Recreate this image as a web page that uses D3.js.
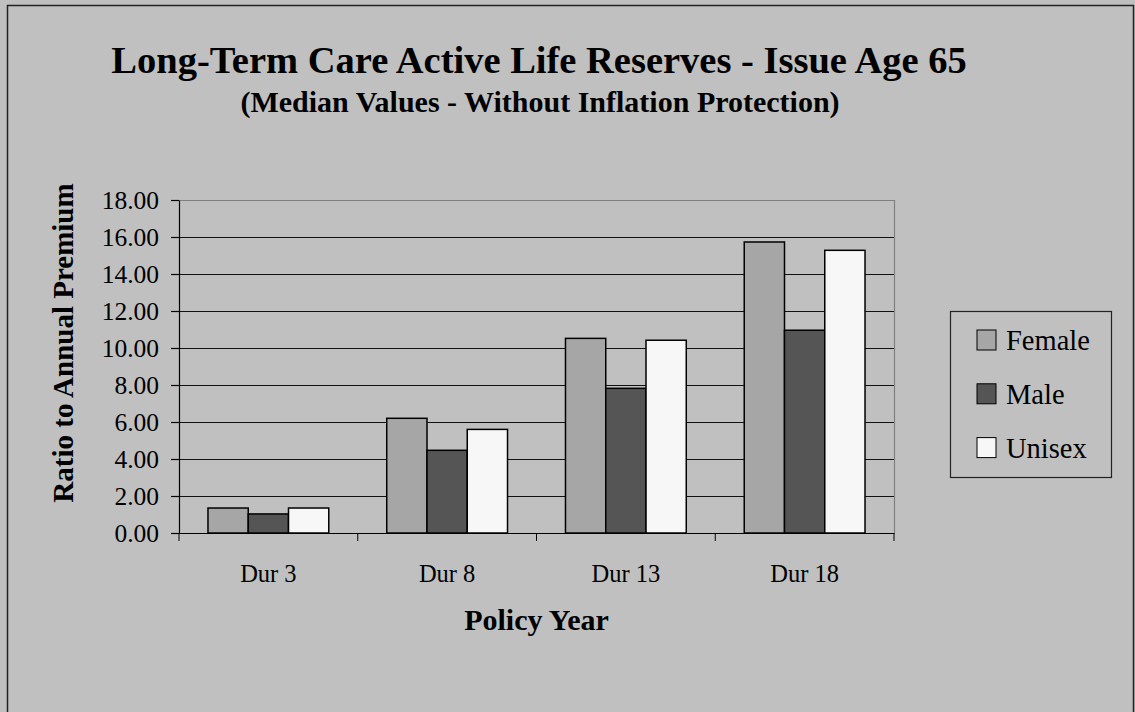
<!DOCTYPE html>
<html>
<head>
<meta charset="utf-8">
<script src="https://cdn.jsdelivr.net/npm/d3@7"></script>
<style>
  body { margin: 0; background: #c0c0c0; }
  svg { display: block; font-family: "Liberation Serif", "Times New Roman", serif; }
</style>
</head>
<body>
<div id="chart"></div>
<script>
var categories = ["Dur 3", "Dur 8", "Dur 13", "Dur 18"];
var seriesNames = ["Female", "Male", "Unisex"];
var female = [1.35, 6.2, 10.52, 15.73];
var male = [1.03, 4.47, 7.82, 10.96];
var unisex = [1.35, 5.6, 10.42, 15.28];
var yTicks = [0, 2, 4, 6, 8, 10, 12, 14, 16, 18];
var colors = ["#a6a6a6", "#555555", "#f7f7f7"];

var seriesValues = [female, male, unisex];
var W = 1135, H = 712;
var plot = {left: 179, right: 894, top: 200, bottom: 533};

var svg = d3.select("#chart").append("svg").attr("width", W).attr("height", H);

// chart frame
svg.append("rect").attr("x", 7.5).attr("y", 5.5).attr("width", 1126).attr("height", 720)
   .style("fill", "#c0c0c0").style("stroke", "#222").style("stroke-width", 1.5);

svg.append("text").attr("x", 539).attr("y", 73).style("text-anchor", "middle")
   .style("font-size", "38.5px").style("font-weight", "bold")
   .text("Long-Term Care Active Life Reserves - Issue Age 65");
svg.append("text").attr("x", 540).attr("y", 112).style("text-anchor", "middle")
   .style("font-size", "30px").style("font-weight", "bold")
   .text("(Median Values - Without Inflation Protection)");

var x = d3.scaleBand().domain(categories).range([plot.left, plot.right]).paddingInner(0).paddingOuter(0);
var xs = d3.scaleBand().domain(seriesNames).range([0, x.bandwidth()]).paddingInner(0).paddingOuter(0.72);
var y = d3.scaleLinear().domain([0, 18]).range([plot.bottom, plot.top]);

// gridlines
svg.append("g").selectAll("line").data(yTicks.filter(function(d){ return d > 0 && d < 18; }))
   .enter().append("line")
   .attr("x1", plot.left).attr("x2", plot.right)
   .attr("y1", function(d){ return Math.round(y(d)) + 0.5; })
   .attr("y2", function(d){ return Math.round(y(d)) + 0.5; })
   .style("stroke", "#111").style("stroke-width", 1);

// plot border top/right
svg.append("path")
   .attr("d", "M" + plot.left + "," + (plot.top + 0.5) + "H" + (plot.right + 0.5) + "V" + plot.bottom)
   .style("fill", "none").style("stroke", "#808080").style("stroke-width", 1.2);

// bars
var groups = svg.append("g").selectAll("g").data(categories).enter().append("g")
   .attr("transform", function(d){ return "translate(" + x(d) + ",0)"; });

groups.selectAll("rect")
   .data(function(d, i){ return seriesNames.map(function(s, j){ return {s: s, j: j, v: seriesValues[j][i]}; }); })
   .enter().append("rect")
   .attr("x", function(d){ return xs(d.s); })
   .attr("width", xs.bandwidth())
   .attr("y", function(d){ return y(d.v); })
   .attr("height", function(d){ return y(0) - y(d.v); })
   .style("fill", function(d){ return colors[d.j]; })
   .style("stroke", "#000").style("stroke-width", 1.5);

// y axis
var yAxis = d3.axisLeft(y).tickValues(yTicks).tickSizeInner(8).tickSizeOuter(0).tickPadding(12)
   .tickFormat(d3.format(".2f"));
var yg = svg.append("g").attr("transform", "translate(" + plot.left + ",0)").call(yAxis);
yg.selectAll("text").style("font-size", "25.5px").style("font-family", "Liberation Serif").attr("dy", "0.34em");
yg.selectAll("line,path").style("stroke", "#000").style("stroke-width", 1.2);

// x axis: ticks between categories
var xg = svg.append("g").attr("transform", "translate(0," + plot.bottom + ")");
xg.append("line").attr("x1", plot.left).attr("x2", plot.right + 0.5).attr("y1", 0.5).attr("y2", 0.5)
   .style("stroke", "#000").style("stroke-width", 1.2);
xg.selectAll(".tk").data(categories.concat(["end"])).enter().append("line")
   .attr("x1", function(d, i){ return plot.left + i * x.bandwidth(); })
   .attr("x2", function(d, i){ return plot.left + i * x.bandwidth(); })
   .attr("y1", 0).attr("y2", 8).style("stroke", "#000").style("stroke-width", 1);
xg.selectAll(".lb").data(categories).enter().append("text")
   .attr("x", function(d){ return x(d) + x.bandwidth() / 2; })
   .attr("y", 49).style("text-anchor", "middle").style("font-size", "24.5px")
   .text(function(d){ return d; });

svg.append("text").attr("x", (plot.left + plot.right) / 2).attr("y", 630)
   .style("text-anchor", "middle").style("font-size", "30px").style("font-weight", "bold")
   .text("Policy Year");

svg.append("text").attr("transform", "translate(73,343) rotate(-90)")
   .style("text-anchor", "middle").style("font-size", "29px").style("font-weight", "bold")
   .text("Ratio to Annual Premium");

// legend
var lg = svg.append("g");
lg.append("rect").attr("x", 950.5).attr("y", 311.5).attr("width", 161).attr("height", 166)
   .style("fill", "#c0c0c0").style("stroke", "#222").style("stroke-width", 1.2);
var items = lg.selectAll(".it").data(seriesNames).enter().append("g")
   .attr("transform", function(d, i){ return "translate(977," + (330 + i * 53.8) + ")"; });
items.append("rect").attr("width", 19).attr("height", 20)
   .style("fill", function(d, i){ return colors[i]; }).style("stroke", "#000").style("stroke-width", 1);
items.append("text").attr("x", 29).attr("y", 20).style("font-size", "28.5px")
   .text(function(d){ return d; });
</script>
</body>
</html>
